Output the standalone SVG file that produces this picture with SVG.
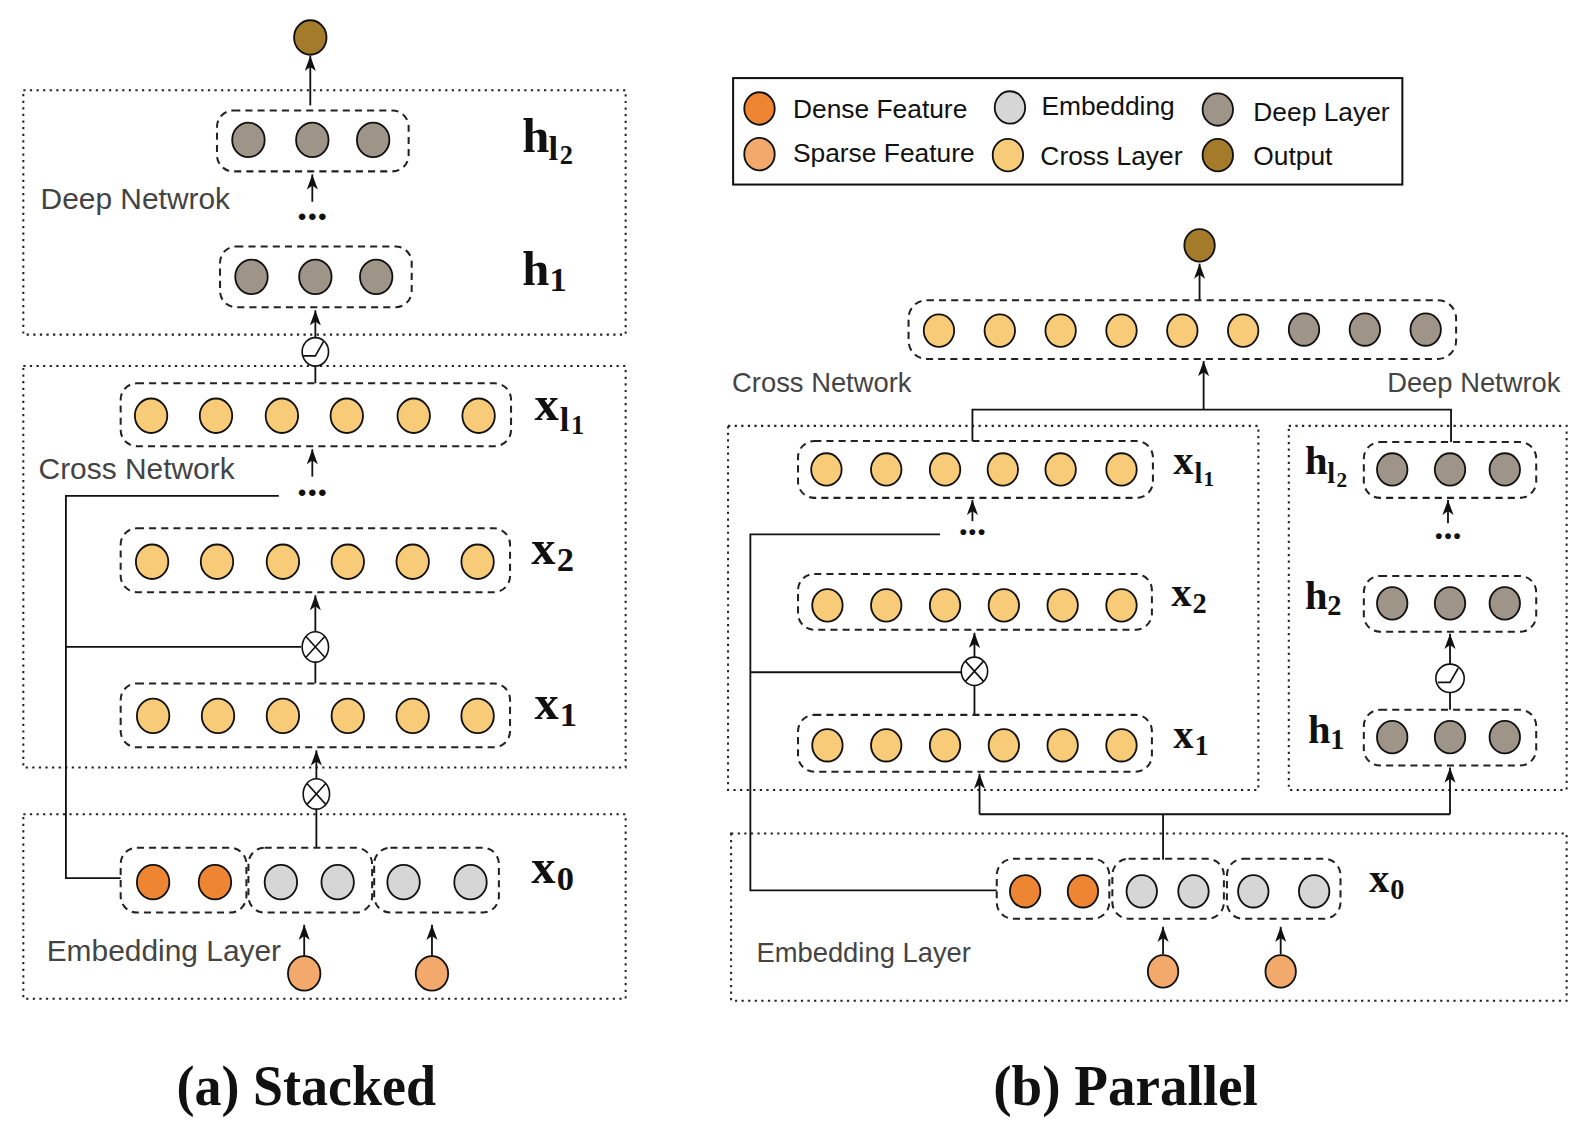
<svg xmlns="http://www.w3.org/2000/svg" width="1590" height="1136" viewBox="0 0 1590 1136">
<defs>
<style>
.bg{fill:#fff}
.dot{fill:none;stroke:#222;stroke-width:2;stroke-dasharray:2.2 4.3}
.dash{fill:none;stroke:#222;stroke-width:2;stroke-dasharray:7 5}
.leg{fill:none;stroke:#111;stroke-width:2}
.c{stroke:#111;stroke-width:1.8}
.deep{fill:#9E9488}
.cross{fill:#F7CB77}
.dense{fill:#EE8533}
.sparse{fill:#F2A96B}
.emb{fill:#D6D6D6}
.out{fill:#A47A2B}
.op{fill:#fff;stroke:#111;stroke-width:1.6}
.opl{fill:none;stroke:#111;stroke-width:1.6}
.ln{fill:none;stroke:#111;stroke-width:1.8}
.ar{fill:none;stroke:#111;stroke-width:1.8;marker-end:url(#arr)}
.sec{font-family:"Liberation Sans",Arial,sans-serif;fill:#444}
.lt{font-family:"Liberation Sans",Arial,sans-serif;fill:#111;font-size:26px}
.m{font-family:"Liberation Serif","DejaVu Serif",serif;font-weight:bold;fill:#111}
.cap{font-family:"Liberation Serif","DejaVu Serif",serif;font-weight:bold;fill:#111;font-size:56px}
</style>
<marker id="arr" viewBox="0 0 15 11" markerWidth="15" markerHeight="11" refX="15" refY="5.5" orient="auto" markerUnits="userSpaceOnUse">
<path d="M0,0 L15,5.5 L0,11 L4,5.5 z" fill="#111"/>
</marker>
</defs>
<rect class="bg" x="0" y="0" width="1590" height="1136"/>
<g transform="scale(1.014)">

<!-- ===== (a) Stacked ===== -->
<g id="a-deep-network">
<rect class="dot" x="23" y="89" width="594" height="241"/>
<text class="sec" x="40" y="206" font-size="29.5">Deep Netwrok</text>
</g>
<g id="a-cross-network">
<rect class="dot" x="23" y="361" width="594" height="396"/>
<text class="sec" x="38" y="472" font-size="29.5">Cross Network</text>
</g>
<g id="a-embedding-layer">
<rect class="dot" x="23" y="803" width="594" height="182"/>
<text class="sec" x="46" y="948" font-size="29.5">Embedding Layer</text>
</g>

<g id="a-connectors">
<line class="ar" x1="306" y1="104" x2="306" y2="55"/>
<line class="ar" x1="308" y1="199" x2="308" y2="172"/>
<line class="ar" x1="311" y1="333" x2="311" y2="306"/>
<line class="ln" x1="311" y1="361" x2="311" y2="378"/>
<line class="ar" x1="308" y1="470" x2="308" y2="443"/>
<polyline class="ln" points="275,489 65,489 65,866 119,866"/>
<line class="ar" x1="311" y1="624" x2="311" y2="587"/>
<line class="ln" x1="65" y1="638" x2="297" y2="638"/>
<line class="ln" x1="311" y1="652" x2="311" y2="674"/>
<line class="ar" x1="312" y1="769" x2="312" y2="740"/>
<line class="ln" x1="312" y1="797" x2="312" y2="836"/>
<line class="ar" x1="300" y1="944" x2="300" y2="912"/>
<line class="ar" x1="426" y1="944" x2="426" y2="912"/>
</g>

<g id="a-output"><ellipse class="c out" cx="306" cy="37" rx="16" ry="17"/></g>

<g id="a-h-l2">
<rect class="dash" x="214" y="109" width="189" height="60" rx="16"/>
<ellipse class="c deep" cx="245" cy="138" rx="16" ry="17"/>
<ellipse class="c deep" cx="308" cy="138" rx="16" ry="17"/>
<ellipse class="c deep" cx="368" cy="138" rx="16" ry="17"/>
<text class="m" x="515" y="150" font-size="48">h<tspan x="541" y="158" font-size="34">l</tspan><tspan x="552" y="162" font-size="26">2</tspan></text>
</g>
<g id="a-dots-deep"><text class="m" x="308" y="217" font-size="40" text-anchor="middle">...</text></g>
<g id="a-h-1">
<rect class="dash" x="217" y="243" width="189" height="60" rx="16"/>
<ellipse class="c deep" cx="248" cy="273" rx="16" ry="17"/>
<ellipse class="c deep" cx="311" cy="273" rx="16" ry="17"/>
<ellipse class="c deep" cx="371" cy="273" rx="16" ry="17"/>
<text class="m" x="515" y="281" font-size="48">h<tspan x="542" y="287" font-size="34">1</tspan></text>
</g>
<g id="a-relu">
<ellipse class="op" cx="311" cy="347" rx="13" ry="14"/>
<path class="opl" d="M299,351 L311,351 L319,337"/>
</g>
<g id="a-x-l1">
<rect class="dash" x="119" y="378" width="385" height="62" rx="16"/>
<ellipse class="c cross" cx="149" cy="410" rx="16" ry="17"/>
<ellipse class="c cross" cx="213" cy="410" rx="16" ry="17"/>
<ellipse class="c cross" cx="278" cy="410" rx="16" ry="17"/>
<ellipse class="c cross" cx="342" cy="410" rx="16" ry="17"/>
<ellipse class="c cross" cx="408" cy="410" rx="16" ry="17"/>
<ellipse class="c cross" cx="472" cy="410" rx="16" ry="17"/>
<text class="m" x="527" y="414" font-size="48">x<tspan x="552" y="425" font-size="34">l</tspan><tspan x="563" y="428" font-size="26">1</tspan></text>
</g>
<g id="a-dots-cross"><text class="m" x="308" y="489" font-size="40" text-anchor="middle">...</text></g>
<g id="a-x-2">
<rect class="dash" x="119" y="521" width="384" height="63" rx="16"/>
<ellipse class="c cross" cx="150" cy="554" rx="16" ry="17"/>
<ellipse class="c cross" cx="214" cy="554" rx="16" ry="17"/>
<ellipse class="c cross" cx="279" cy="554" rx="16" ry="17"/>
<ellipse class="c cross" cx="343" cy="554" rx="16" ry="17"/>
<ellipse class="c cross" cx="407" cy="554" rx="16" ry="17"/>
<ellipse class="c cross" cx="471" cy="554" rx="16" ry="17"/>
<text class="m" x="524" y="556" font-size="48">x<tspan x="549" y="563" font-size="34">2</tspan></text>
</g>
<g id="a-cross-op-2">
<ellipse class="op" cx="311" cy="638" rx="13" ry="15"/>
<path class="opl" d="M302,628 L320,648 M320,628 L302,648"/>
</g>
<g id="a-x-1">
<rect class="dash" x="119" y="674" width="384" height="63" rx="16"/>
<ellipse class="c cross" cx="151" cy="706" rx="16" ry="17"/>
<ellipse class="c cross" cx="215" cy="706" rx="16" ry="17"/>
<ellipse class="c cross" cx="279" cy="706" rx="16" ry="17"/>
<ellipse class="c cross" cx="343" cy="706" rx="16" ry="17"/>
<ellipse class="c cross" cx="407" cy="706" rx="16" ry="17"/>
<ellipse class="c cross" cx="471" cy="706" rx="16" ry="17"/>
<text class="m" x="527" y="709" font-size="48">x<tspan x="552" y="716" font-size="34">1</tspan></text>
</g>
<g id="a-cross-op-1">
<ellipse class="op" cx="312" cy="783" rx="13" ry="15"/>
<path class="opl" d="M303,773 L321,793 M321,773 L303,793"/>
</g>
<g id="a-x-0">
<rect class="dash" x="119" y="836" width="124" height="64" rx="16"/>
<rect class="dash" x="245" y="836" width="122" height="64" rx="16"/>
<rect class="dash" x="369" y="836" width="123" height="64" rx="16"/>
<ellipse class="c dense" cx="151" cy="870" rx="16" ry="17"/>
<ellipse class="c dense" cx="212" cy="870" rx="16" ry="17"/>
<ellipse class="c emb" cx="277" cy="870" rx="16" ry="17"/>
<ellipse class="c emb" cx="333" cy="870" rx="16" ry="17"/>
<ellipse class="c emb" cx="398" cy="870" rx="16" ry="17"/>
<ellipse class="c emb" cx="464" cy="870" rx="16" ry="17"/>
<text class="m" x="524" y="871" font-size="48">x<tspan x="549" y="878" font-size="34">0</tspan></text>
</g>
<g id="a-sparse">
<ellipse class="c sparse" cx="300" cy="960" rx="16" ry="17"/>
<ellipse class="c sparse" cx="426" cy="960" rx="16" ry="17"/>
</g>
<g id="a-caption"><text class="cap" x="302" y="1090" text-anchor="middle" textLength="256" lengthAdjust="spacingAndGlyphs">(a) Stacked</text></g>

<!-- ===== (b) Parallel ===== -->
<g id="legend">
<rect class="leg" x="723" y="77" width="660" height="105"/>
<ellipse class="c dense" cx="749" cy="107" rx="15" ry="16"/>
<text class="lt" x="782" y="116">Dense Feature</text>
<ellipse class="c emb" cx="996" cy="106" rx="15" ry="16"/>
<text class="lt" x="1027" y="113">Embedding</text>
<ellipse class="c deep" cx="1201" cy="108" rx="15" ry="16"/>
<text class="lt" x="1236" y="119">Deep Layer</text>
<ellipse class="c sparse" cx="749" cy="152" rx="15" ry="16"/>
<text class="lt" x="782" y="160">Sparse Feature</text>
<ellipse class="c cross" cx="994" cy="153" rx="15" ry="16"/>
<text class="lt" x="1026" y="163">Cross Layer</text>
<ellipse class="c out" cx="1201" cy="153" rx="15" ry="16"/>
<text class="lt" x="1236" y="163">Output</text>
</g>

<g id="b-cross-network">
<rect class="dot" x="718" y="420" width="523" height="359"/>
<text class="sec" x="722" y="387" font-size="27">Cross Network</text>
</g>
<g id="b-deep-network">
<rect class="dot" x="1271" y="420" width="274" height="359"/>
<text class="sec" x="1368" y="387" font-size="27">Deep Netwrok</text>
</g>
<g id="b-embedding-layer">
<rect class="dot" x="721" y="822" width="824" height="165"/>
<text class="sec" x="746" y="949" font-size="27">Embedding Layer</text>
</g>

<g id="b-connectors">
<line class="ar" x1="1183" y1="296" x2="1183" y2="260"/>
<line class="ar" x1="1187" y1="404" x2="1187" y2="356"/>
<polyline class="ln" points="959,435 959,404 1431,404 1431,436"/>
<line class="ar" x1="959" y1="514" x2="959" y2="493"/>
<polyline class="ln" points="927,527 740,527 740,878 983,878"/>
<line class="ar" x1="961" y1="648" x2="961" y2="624"/>
<line class="ln" x1="740" y1="663" x2="948" y2="663"/>
<line class="ln" x1="961" y1="676" x2="961" y2="705"/>
<line class="ln" x1="1147" y1="848" x2="1147" y2="803"/>
<line class="ln" x1="966" y1="803" x2="1430" y2="803"/>
<line class="ar" x1="966" y1="803" x2="966" y2="763"/>
<line class="ar" x1="1430" y1="803" x2="1430" y2="757"/>
<line class="ar" x1="1428" y1="516" x2="1428" y2="493"/>
<line class="ar" x1="1430" y1="655" x2="1430" y2="625"/>
<line class="ln" x1="1430" y1="683" x2="1430" y2="700"/>
<line class="ar" x1="1147" y1="941" x2="1147" y2="914"/>
<line class="ar" x1="1263" y1="941" x2="1263" y2="914"/>
</g>

<g id="b-output"><ellipse class="c out" cx="1183" cy="242" rx="15" ry="16"/></g>
<g id="b-concat">
<rect class="dash" x="896" y="296" width="540" height="58" rx="18"/>
<ellipse class="c cross" cx="926" cy="326" rx="15" ry="16"/>
<ellipse class="c cross" cx="986" cy="326" rx="15" ry="16"/>
<ellipse class="c cross" cx="1046" cy="326" rx="15" ry="16"/>
<ellipse class="c cross" cx="1106" cy="326" rx="15" ry="16"/>
<ellipse class="c cross" cx="1166" cy="326" rx="15" ry="16"/>
<ellipse class="c cross" cx="1226" cy="326" rx="15" ry="16"/>
<ellipse class="c deep" cx="1286" cy="325" rx="15" ry="16"/>
<ellipse class="c deep" cx="1346" cy="325" rx="15" ry="16"/>
<ellipse class="c deep" cx="1406" cy="325" rx="15" ry="16"/>
</g>
<g id="b-x-l1">
<rect class="dash" x="787" y="435" width="350" height="56" rx="16"/>
<ellipse class="c cross" cx="815" cy="463" rx="15" ry="16"/>
<ellipse class="c cross" cx="874" cy="463" rx="15" ry="16"/>
<ellipse class="c cross" cx="932" cy="463" rx="15" ry="16"/>
<ellipse class="c cross" cx="989" cy="463" rx="15" ry="16"/>
<ellipse class="c cross" cx="1046" cy="463" rx="15" ry="16"/>
<ellipse class="c cross" cx="1106" cy="463" rx="15" ry="16"/>
<text class="m" x="1157" y="467" font-size="40">x<tspan x="1178" y="476" font-size="28">l</tspan><tspan x="1187" y="479" font-size="21">1</tspan></text>
</g>
<g id="b-dots-cross"><text class="m" x="959" y="528" font-size="36" text-anchor="middle">...</text></g>
<g id="b-x-2">
<rect class="dash" x="787" y="566" width="349" height="55" rx="16"/>
<ellipse class="c cross" cx="816" cy="597" rx="15" ry="16"/>
<ellipse class="c cross" cx="874" cy="597" rx="15" ry="16"/>
<ellipse class="c cross" cx="932" cy="597" rx="15" ry="16"/>
<ellipse class="c cross" cx="990" cy="597" rx="15" ry="16"/>
<ellipse class="c cross" cx="1048" cy="597" rx="15" ry="16"/>
<ellipse class="c cross" cx="1106" cy="597" rx="15" ry="16"/>
<text class="m" x="1155" y="598" font-size="40">x<tspan x="1176" y="605" font-size="28">2</tspan></text>
</g>
<g id="b-cross-op">
<ellipse class="op" cx="961" cy="662" rx="13" ry="14"/>
<path class="opl" d="M952,652 L970,672 M970,652 L952,672"/>
</g>
<g id="b-x-1">
<rect class="dash" x="787" y="705" width="349" height="56" rx="16"/>
<ellipse class="c cross" cx="816" cy="735" rx="15" ry="16"/>
<ellipse class="c cross" cx="874" cy="735" rx="15" ry="16"/>
<ellipse class="c cross" cx="932" cy="735" rx="15" ry="16"/>
<ellipse class="c cross" cx="990" cy="735" rx="15" ry="16"/>
<ellipse class="c cross" cx="1048" cy="735" rx="15" ry="16"/>
<ellipse class="c cross" cx="1106" cy="735" rx="15" ry="16"/>
<text class="m" x="1157" y="738" font-size="40">x<tspan x="1178" y="745" font-size="28">1</tspan></text>
</g>
<g id="b-h-l2">
<rect class="dash" x="1345" y="436" width="170" height="55" rx="16"/>
<ellipse class="c deep" cx="1373" cy="463" rx="15" ry="16"/>
<ellipse class="c deep" cx="1430" cy="463" rx="15" ry="16"/>
<ellipse class="c deep" cx="1484" cy="463" rx="15" ry="16"/>
<text class="m" x="1287" y="467" font-size="40">h<tspan x="1309" y="476" font-size="28">l</tspan><tspan x="1318" y="480" font-size="21">2</tspan></text>
</g>
<g id="b-dots-deep"><text class="m" x="1428" y="532" font-size="36" text-anchor="middle">...</text></g>
<g id="b-h-2">
<rect class="dash" x="1345" y="568" width="170" height="55" rx="16"/>
<ellipse class="c deep" cx="1373" cy="595" rx="15" ry="16"/>
<ellipse class="c deep" cx="1430" cy="595" rx="15" ry="16"/>
<ellipse class="c deep" cx="1484" cy="595" rx="15" ry="16"/>
<text class="m" x="1287" y="601" font-size="40">h<tspan x="1309" y="607" font-size="28">2</tspan></text>
</g>
<g id="b-relu">
<ellipse class="op" cx="1430" cy="669" rx="14" ry="14"/>
<path class="opl" d="M1418,673 L1430,673 L1438,659"/>
</g>
<g id="b-h-1">
<rect class="dash" x="1345" y="700" width="170" height="55" rx="16"/>
<ellipse class="c deep" cx="1373" cy="727" rx="15" ry="16"/>
<ellipse class="c deep" cx="1430" cy="727" rx="15" ry="16"/>
<ellipse class="c deep" cx="1484" cy="727" rx="15" ry="16"/>
<text class="m" x="1290" y="733" font-size="40">h<tspan x="1312" y="739" font-size="28">1</tspan></text>
</g>
<g id="b-x-0">
<rect class="dash" x="983" y="847" width="111" height="59" rx="16"/>
<rect class="dash" x="1097" y="847" width="110" height="59" rx="16"/>
<rect class="dash" x="1210" y="847" width="112" height="59" rx="16"/>
<ellipse class="c dense" cx="1011" cy="879" rx="15" ry="16"/>
<ellipse class="c dense" cx="1068" cy="879" rx="15" ry="16"/>
<ellipse class="c emb" cx="1126" cy="879" rx="15" ry="16"/>
<ellipse class="c emb" cx="1177" cy="879" rx="15" ry="16"/>
<ellipse class="c emb" cx="1236" cy="879" rx="15" ry="16"/>
<ellipse class="c emb" cx="1296" cy="879" rx="15" ry="16"/>
<text class="m" x="1350" y="880" font-size="40">x<tspan x="1371" y="887" font-size="28">0</tspan></text>
</g>
<g id="b-sparse">
<ellipse class="c sparse" cx="1147" cy="958" rx="15" ry="16"/>
<ellipse class="c sparse" cx="1263" cy="958" rx="15" ry="16"/>
</g>
<g id="b-caption"><text class="cap" x="1110" y="1090" text-anchor="middle" textLength="261" lengthAdjust="spacingAndGlyphs">(b) Parallel</text></g>
</g>
</svg>
